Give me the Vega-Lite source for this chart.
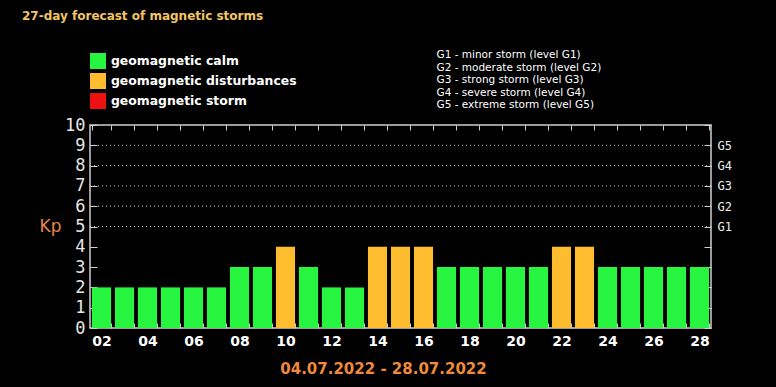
{
  "$schema": "https://vega.github.io/schema/vega-lite/v6.json",
  "width": 621,
  "height": 203,
  "autosize": "none",
  "padding": {"left": 90, "top": 125, "right": 65, "bottom": 59},
  "background": "#000000",
  "config": {
    "view": {"stroke": "#d0d0d0", "strokeWidth": 1.5},
    "axis": {"domain": false, "grid": false}
  },
  "title": {
    "text": "27-day forecast of magnetic storms",
    "anchor": "start",
    "frame": "group",
    "dx": -68,
    "offset": 27,
    "color": "#f2c463",
    "font": "DejaVu Sans",
    "fontSize": 12,
    "fontWeight": "bold"
  },
  "data": {
    "values": [
      {"day": "02", "kp": 2, "status": "geomagnetic calm"},
      {"day": "03", "kp": 2, "status": "geomagnetic calm"},
      {"day": "04", "kp": 2, "status": "geomagnetic calm"},
      {"day": "05", "kp": 2, "status": "geomagnetic calm"},
      {"day": "06", "kp": 2, "status": "geomagnetic calm"},
      {"day": "07", "kp": 2, "status": "geomagnetic calm"},
      {"day": "08", "kp": 3, "status": "geomagnetic calm"},
      {"day": "09", "kp": 3, "status": "geomagnetic calm"},
      {"day": "10", "kp": 4, "status": "geomagnetic disturbances"},
      {"day": "11", "kp": 3, "status": "geomagnetic calm"},
      {"day": "12", "kp": 2, "status": "geomagnetic calm"},
      {"day": "13", "kp": 2, "status": "geomagnetic calm"},
      {"day": "14", "kp": 4, "status": "geomagnetic disturbances"},
      {"day": "15", "kp": 4, "status": "geomagnetic disturbances"},
      {"day": "16", "kp": 4, "status": "geomagnetic disturbances"},
      {"day": "17", "kp": 3, "status": "geomagnetic calm"},
      {"day": "18", "kp": 3, "status": "geomagnetic calm"},
      {"day": "19", "kp": 3, "status": "geomagnetic calm"},
      {"day": "20", "kp": 3, "status": "geomagnetic calm"},
      {"day": "21", "kp": 3, "status": "geomagnetic calm"},
      {"day": "22", "kp": 4, "status": "geomagnetic disturbances"},
      {"day": "23", "kp": 4, "status": "geomagnetic disturbances"},
      {"day": "24", "kp": 3, "status": "geomagnetic calm"},
      {"day": "25", "kp": 3, "status": "geomagnetic calm"},
      {"day": "26", "kp": 3, "status": "geomagnetic calm"},
      {"day": "27", "kp": 3, "status": "geomagnetic calm"},
      {"day": "28", "kp": 3, "status": "geomagnetic calm"}
    ]
  },
  "layer": [
    {
      "mark": {"type": "bar"},
      "encoding": {
        "x": {
          "field": "day",
          "type": "ordinal",
          "scale": {"paddingInner": 0.17, "paddingOuter": 0.085},
          "axis": {
            "orient": "bottom",
            "labelExpr": "toNumber(datum.value) % 2 == 0 ? datum.value : ''",
            "labelAngle": 0,
            "labelColor": "#ffffff",
            "labelFont": "DejaVu Sans",
            "labelFontSize": 14,
            "labelFontWeight": "bold",
            "labelPadding": 11,
            "tickBand": "extent",
            "tickSize": -5,
            "tickColor": "#d0d0d0",
            "title": "04.07.2022 - 28.07.2022",
            "titleColor": "#ee8a3c",
            "titleFont": "DejaVu Sans",
            "titleFontSize": 15,
            "titleFontWeight": "bold",
            "titleX": 293,
            "titlePadding": 13
          }
        },
        "y": {
          "field": "kp",
          "type": "quantitative",
          "scale": {"domain": [0, 10], "nice": false},
          "axis": {
            "orient": "left",
            "values": [0, 1, 2, 3, 4, 5, 6, 7, 8, 9, 10],
            "tickSize": -7,
            "tickColor": "#d0d0d0",
            "labelPadding": 12,
            "labelColor": "#e6e6e6",
            "labelFont": "DejaVu Sans Mono",
            "labelFontSize": 17,
            "title": "Kp",
            "titleAngle": 0,
            "titleX": -40,
            "titleY": 101,
            "titleAlign": "center",
            "titleBaseline": "middle",
            "titleColor": "#e8874a",
            "titleFont": "DejaVu Sans",
            "titleFontSize": 17,
            "titleFontWeight": "normal"
          }
        },
        "color": {
          "field": "status",
          "type": "nominal",
          "scale": {
            "domain": ["geomagnetic calm", "geomagnetic disturbances", "geomagnetic storm"],
            "range": ["#27f540", "#fdbd2e", "#ee1111"]
          },
          "legend": {
            "orient": "none",
            "legendX": 0,
            "legendY": -72,
            "title": null,
            "symbolType": "square",
            "symbolSize": 256,
            "symbolStrokeWidth": 0,
            "labelColor": "#ffffff",
            "labelFont": "DejaVu Sans",
            "labelFontSize": 12.4,
            "labelFontWeight": "bold",
            "labelOffset": 5,
            "labelLimit": 300,
            "rowPadding": 4
          }
        }
      }
    },
    {
      "data": {
        "values": [
          {"kp": 5, "level": "G1 - minor storm (level G1)"},
          {"kp": 6, "level": "G2 - moderate storm (level G2)"},
          {"kp": 7, "level": "G3 - strong storm (level G3)"},
          {"kp": 8, "level": "G4 - severe storm (level G4)"},
          {"kp": 9, "level": "G5 - extreme storm (level G5)"}
        ]
      },
      "mark": {"type": "rule", "color": "#c8c8c8", "strokeWidth": 1},
      "encoding": {
        "y": {
          "field": "kp",
          "type": "quantitative",
          "scale": {"domain": [0, 10], "nice": false},
          "axis": {
            "orient": "right",
            "values": [0, 1, 2, 3, 4, 5, 6, 7, 8, 9, 10],
            "labelExpr": "datum.value >= 5 && datum.value <= 9 ? 'G' + (datum.value - 4) : ''",
            "tickSize": -7,
            "tickColor": "#d0d0d0",
            "labelPadding": 13,
            "labelColor": "#eeeeee",
            "labelFont": "DejaVu Sans Mono",
            "labelFontSize": 12,
            "title": null
          }
        },
        "strokeDash": {
          "field": "level",
          "type": "nominal",
          "scale": {"range": [[1, 3], [1, 3], [1, 3], [1, 3], [1, 3]]},
          "legend": {
            "orient": "none",
            "legendX": 336,
            "legendY": -75,
            "title": null,
            "symbolSize": 0,
            "symbolOpacity": 0,
            "labelOffset": 0,
            "labelColor": "#ffffff",
            "labelFont": "DejaVu Sans",
            "labelFontSize": 10.5,
            "rowPadding": 1.5,
            "labelLimit": 300
          }
        }
      }
    },
    {
      "mark": {"type": "bar", "opacity": 0},
      "encoding": {
        "x": {
          "field": "day",
          "type": "ordinal",
          "axis": {
            "orient": "top",
            "labels": false,
            "tickBand": "extent",
            "tickSize": -5,
            "tickColor": "#d0d0d0",
            "title": null
          }
        }
      }
    }
  ]
}
